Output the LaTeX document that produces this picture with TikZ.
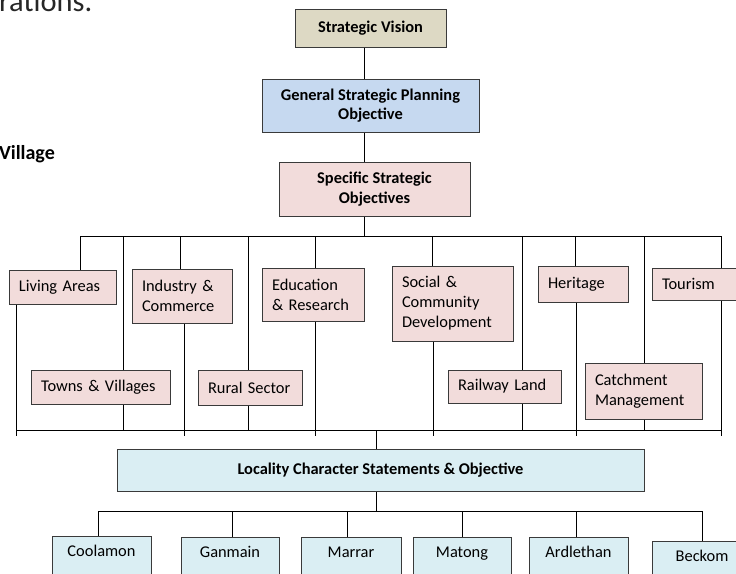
\documentclass[tikz,border=0pt]{standalone}
\usepackage{fontspec}
\setmainfont{Carlito}
\usetikzlibrary{positioning}
\definecolor{visiontan}{HTML}{DDD9C4}
\definecolor{generalblue}{HTML}{C6D9F0}
\definecolor{topicpink}{HTML}{F2DCDB}
\definecolor{localblue}{HTML}{DAEEF3}
\definecolor{boxline}{HTML}{3A3A3A}
\tikzset{
  box/.style={draw=boxline,line width=1pt,inner xsep=10pt,inner ysep=0pt,
    font=\fontsize{16.4}{20}\selectfont},
  head/.style={box,align=center,font=\fontsize{16.4}{19.5}\selectfont\bfseries},
  topic/.style={box,fill=topicpink,align=left},
  town/.style={box,fill=localblue,anchor=north,minimum width=99pt,
    text height=14pt,text depth=32pt,inner ysep=6pt},
  link/.style={line width=0.9pt,black}
}

\begin{document}
\begin{tikzpicture}[x=1pt,y=-1pt]
  \useasboundingbox (0,0) rectangle (736,573);
  \clip (0,0) rectangle (736,573);

  % text of the page round the chart
  \node at (-1,11) [anchor=base west,inner sep=0pt,text=black!85,
    font=\fontsize{30.5}{34}\selectfont] (pagetext) {rations.};
  \node at (55,159) [anchor=base east,inner sep=0pt,
    font=\fontsize{20}{22}\selectfont\bfseries] (pagehead) {Village};

  \node at (370.5,28) [head,fill=visiontan,minimum width=151pt,minimum height=38pt] (vision) {Strategic Vision};
  \node at (370.5,105.5) [head,fill=generalblue,minimum width=217pt,minimum height=53pt] (general) {General Strategic Planning\\Objective};
  \node at (374.5,189) [head,fill=topicpink,minimum width=191pt,minimum height=54pt] (specific) {Specific Strategic\\Objectives};

  % topics
  \node at (62.5,287) [topic,text width=87pt,minimum height=34pt] (living) {Living Areas};
  \node at (100.5,387) [topic,text width=119pt,minimum height=34pt] (towns) {Towns \& Villages};
  \node at (182,296) [topic,text width=80pt,minimum height=54pt] (industry) {Industry \&\\Commerce};
  \node at (250,387.5) [topic,text width=84pt,minimum height=35pt] (rural) {Rural Sector};
  \node at (313,294.5) [topic,text width=82pt,minimum height=53pt] (education) {Education\\\& Research};
  \node at (452.5,303.5) [topic,text width=101pt,minimum height=75pt] (social) {Social \&\\Community\\Development};
  \node at (504.5,386.5) [topic,text width=93pt,minimum height=33pt] (railway) {Railway Land};
  \node at (583,284) [topic,text width=70pt,minimum height=36pt] (heritage) {Heritage};
  \node at (643.5,391) [topic,text width=97pt,minimum height=56pt] (catchment) {Catchment\\Management};
  \node at (700,284) [topic,text width=76pt,minimum height=32pt] (tourism) {Tourism};

  \node at (380.5,470) [head,fill=localblue,minimum width=527pt,minimum height=42pt] (locality) {Locality Character Statements \& Objective};

  % localities
  \node at (101.5,536) [town] (coolamon) {Coolamon};
  \node at (230,537) [town,minimum width=98pt] (ganmain) {Ganmain};
  \node at (351,537) [town,minimum width=100pt] (marrar) {Marrar};
  \node at (462,537) [town,minimum width=98pt] (matong) {Matong};
  \node at (578.5,537) [town] (ardlethan) {Ardlethan};
  \node at (702,541) [town] (beckom) {Beckom};

  \coordinate (topbus) at (0,236);
  \coordinate (lowbus) at (0,430);
  \coordinate (lowtick) at (0,436);
  \coordinate (townbus) at (0,511);

  \draw[link] (vision.south -| 364,0) -- (general.north -| 364,0);
  \draw[link] (general.south -| 364,0) -- (specific.north -| 364,0);
  \draw[link] (specific.south -| 364,0) -- (364,0 |- topbus);

  % upper bus
  \draw[link] (living.north -| 80,0) -- (80,0 |- topbus) -- (721,0 |- topbus) -- (tourism.north -| 721,0);
  \draw[link] (123,0 |- topbus) -- (towns.north -| 123,0);
  \draw[link] (180,0 |- topbus) -- (industry.north -| 180,0);
  \draw[link] (248,0 |- topbus) -- (rural.north -| 248,0);
  \draw[link] (315,0 |- topbus) -- (education.north -| 315,0);
  \draw[link] (432,0 |- topbus) -- (social.north -| 432,0);
  \draw[link] (522,0 |- topbus) -- (railway.north -| 522,0);
  \draw[link] (575,0 |- topbus) -- (heritage.north -| 575,0);
  \draw[link] (644,0 |- topbus) -- (catchment.north -| 644,0);

  % lower bus
  \draw[link] (16,0 |- lowbus) -- (721,0 |- lowbus);
  \draw[link] (living.south -| 16,0) -- (16,0 |- lowtick);
  \draw[link] (towns.south -| 123,0) -- (123,0 |- lowbus);
  \draw[link] (industry.south -| 184,0) -- (184,0 |- lowtick);
  \draw[link] (rural.south -| 248,0) -- (248,0 |- lowbus);
  \draw[link] (education.south -| 315,0) -- (315,0 |- lowtick);
  \draw[link] (social.south -| 433,0) -- (433,0 |- lowtick);
  \draw[link] (railway.south -| 522,0) -- (522,0 |- lowbus);
  \draw[link] (heritage.south -| 576,0) -- (576,0 |- lowtick);
  \draw[link] (catchment.south -| 644,0) -- (644,0 |- lowbus);
  \draw[link] (tourism.south -| 721,0) -- (721,0 |- lowtick);

  \draw[link] (376,0 |- lowbus) -- (locality.north -| 376,0);
  \draw[link] (locality.south -| 376,0) -- (376,0 |- townbus);

  % town bus
  \draw[link] (coolamon.north -| 98,0) -- (98,0 |- townbus) -- (702,0 |- townbus) -- (beckom.north -| 702,0);
  \draw[link] (232,0 |- townbus) -- (ganmain.north -| 232,0);
  \draw[link] (347,0 |- townbus) -- (marrar.north -| 347,0);
  \draw[link] (462,0 |- townbus) -- (matong.north -| 462,0);
  \draw[link] (576,0 |- townbus) -- (ardlethan.north -| 576,0);
\end{tikzpicture}
\end{document}
